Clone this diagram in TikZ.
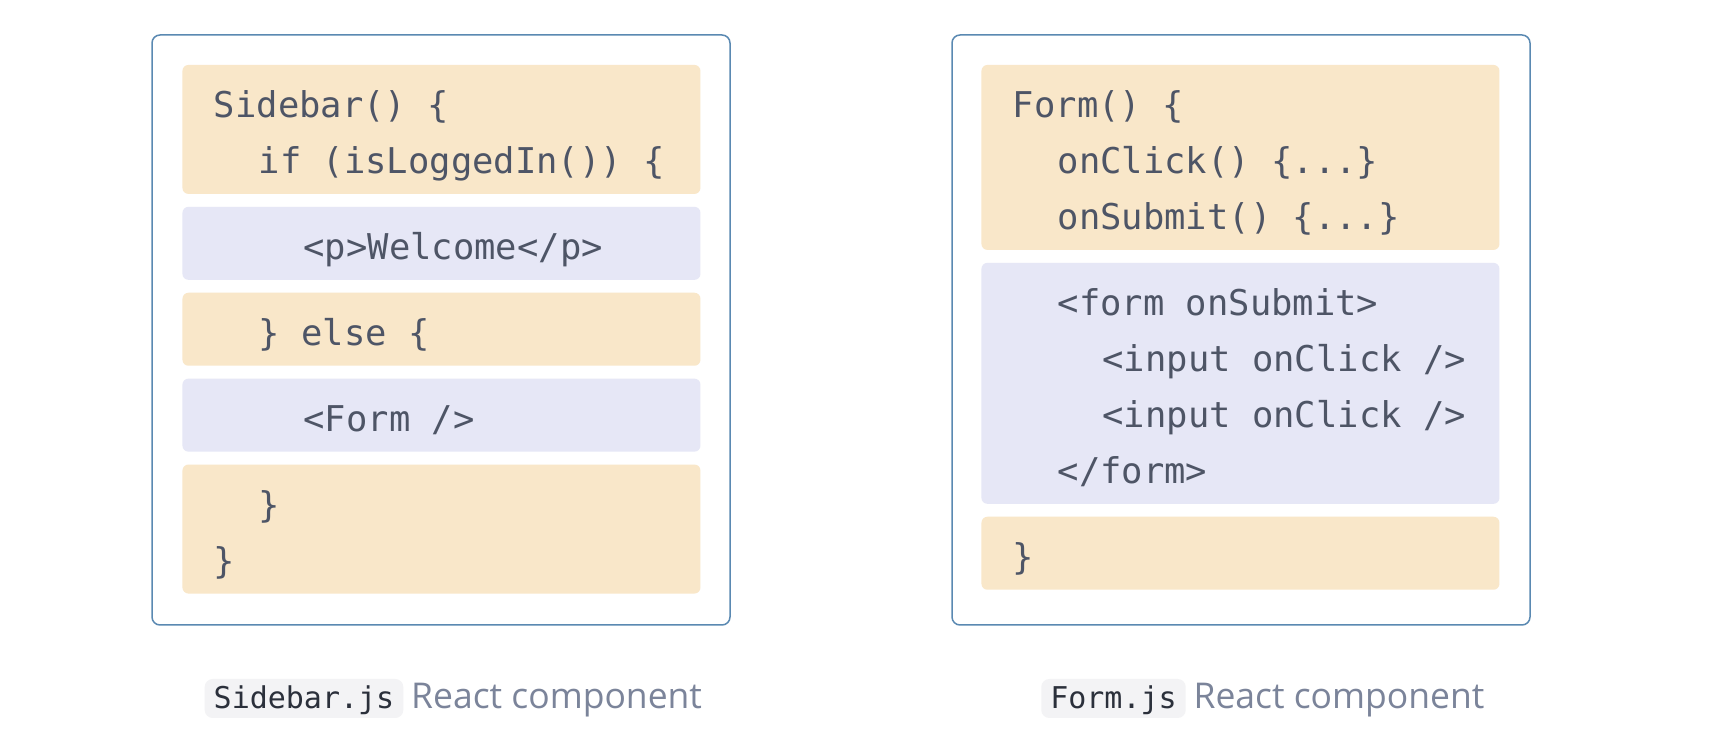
\documentclass[tikz,border=0pt]{standalone}
\usepackage{fontspec}
\usepackage{xcolor}
\usepackage{tikz}
\usetikzlibrary{positioning}

\newfontfamily\codefont{DejaVu Sans Mono}
\newfontfamily\capfont{Open Sans}

\definecolor{frameblue}{HTML}{5A89B2}
\definecolor{logicbg}{HTML}{F9E7C9}
\definecolor{jsxbg}{HTML}{E6E7F6}
\definecolor{codetext}{HTML}{4E5566}
\definecolor{pillbg}{HTML}{F3F3F5}
\definecolor{pilltext}{HTML}{2B303B}
\definecolor{captext}{HTML}{7B849A}

% one code line: fixed line box, full-width spaces
\newcommand{\lstrut}{\spaceskip=0.602em plus 0pt minus 0pt\xspaceskip=\spaceskip\rule[-12pt]{0pt}{56pt}\hspace*{11.5pt}}
\newcommand{\codeind}{\hspace*{22.4pt}}

\begin{document}
\begin{tikzpicture}[
    x=1pt, y=1pt,
    node distance=12.5pt,
    frame/.style={rectangle, draw=frameblue, line width=1.5pt, rounded corners=8pt, fill=white, minimum width=578pt, minimum height=590pt},
    block/.style={rectangle, rounded corners=6pt, text width=478pt, inner xsep=20pt, inner ysep=8.5pt, align=left, text=codetext, font=\codefont\fontsize{35.5}{56}\selectfont, fill=#1},
    block/.default=logicbg,
    jsx/.style={block=jsxbg},
    pill/.style={rectangle, rounded corners=8pt, fill=pillbg, text=pilltext, inner xsep=9pt, inner ysep=0pt, minimum height=39pt, text height=25pt, text depth=4pt, font=\codefont\fontsize{30}{36}\selectfont},
    caption/.style={inner sep=0pt, text=captext, font=\capfont\fontsize{35.5}{40}\selectfont},
]
    \path[use as bounding box, fill=white] (0,0) rectangle (1714,746);

    % Sidebar.js
    \node[frame] (sbframe) at (441,416) {};
    \node[block, below right=30.5pt and 31pt of sbframe.north west] (sbhead) {\lstrut Sidebar() \{\\ \lstrut\codeind\codeind if (isLoggedIn()) \{};
    \node[jsx, below=of sbhead] (sbwelcome) {\lstrut\codeind\codeind\codeind\codeind<p>Welcome</p>};
    \node[block, below=of sbwelcome] (sbelse) {\lstrut\codeind\codeind\} else \{};
    \node[jsx, below=of sbelse] (sbform) {\lstrut\codeind\codeind\codeind\codeind<Form />};
    \node[block, below=of sbform] (sbtail) {\lstrut\codeind\codeind\}\\ \lstrut\}};

    % Form.js
    \node[frame] (fmframe) at (1241,416) {};
    \node[block, below right=30.5pt and 30pt of fmframe.north west] (fmhead) {\lstrut Form() \{\\ \lstrut\codeind\codeind onClick() \{...\}\\ \lstrut\codeind\codeind onSubmit() \{...\}};
    \node[jsx, below=of fmhead] (fmmarkup) {\lstrut\codeind\codeind<form onSubmit>\\ \lstrut\codeind\codeind\codeind\codeind<input onClick />\\ \lstrut\codeind\codeind\codeind\codeind<input onClick />\\ \lstrut\codeind\codeind</form>};
    \node[block, below=of fmmarkup] (fmtail) {\lstrut\}};

    % captions
    \node[pill] (sbpill) at (304,47.5) {Sidebar.js};
    \node[caption, right=7.5pt of sbpill.base east, anchor=base west] (sbcap) {React component};
    \node[pill] (fmpill) at (1113.5,47.5) {Form.js};
    \node[caption, right=7.5pt of fmpill.base east, anchor=base west] (fmcap) {React component};
\end{tikzpicture}
\end{document}
